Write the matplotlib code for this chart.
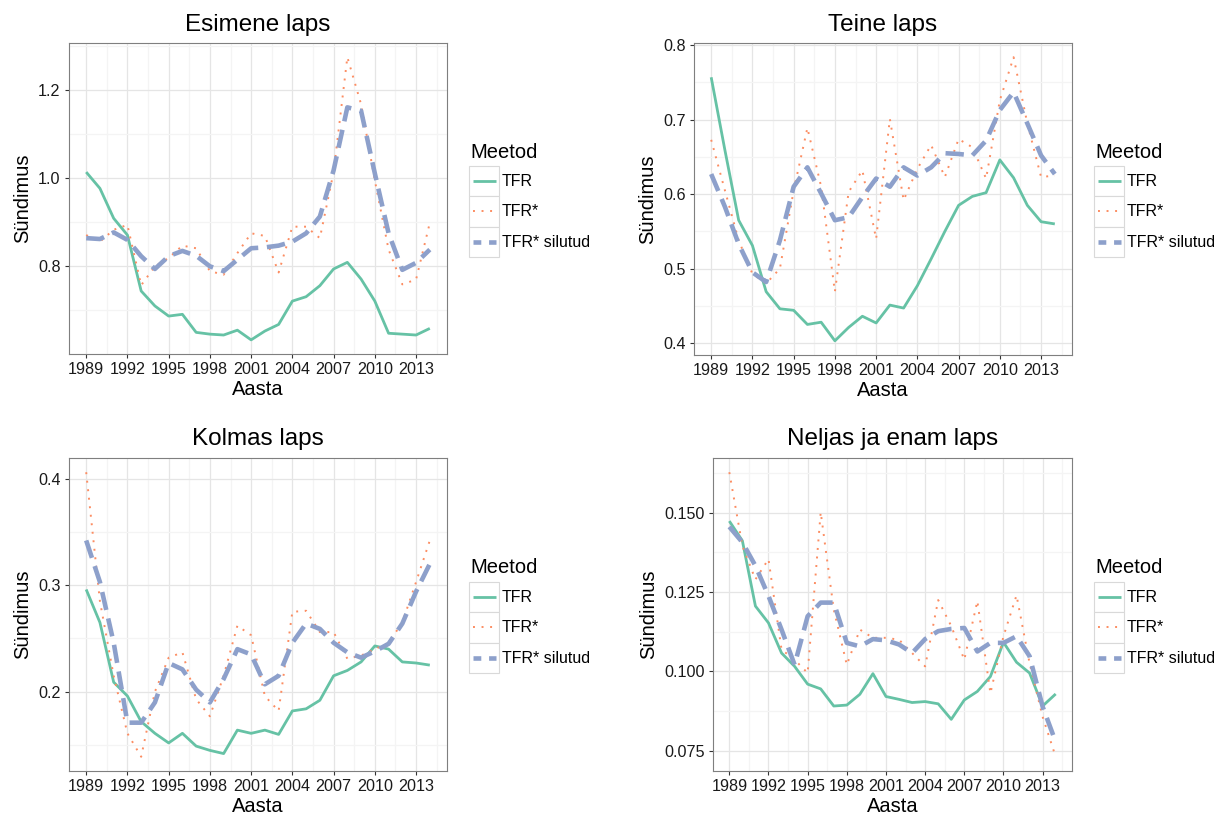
import matplotlib
matplotlib.use("Agg")
import matplotlib.pyplot as plt
from matplotlib.lines import Line2D
from matplotlib.patches import Rectangle
from matplotlib.ticker import MultipleLocator, AutoMinorLocator, FormatStrFormatter
from matplotlib.transforms import Affine2D

plt.rcParams["font.family"] = ["Liberation Sans", "DejaVu Sans"]

# Data
years = list(range(1989, 2015))
methods = ["TFR", "TFR*", "TFR* silutud"]
titles = ["Esimene laps", "Teine laps", "Kolmas laps", "Neljas ja enam laps"]

first_tfr = [1.014, 0.977, 0.909, 0.871, 0.744, 0.710, 0.687, 0.691, 0.650, 0.646,
             0.644, 0.655, 0.633, 0.653, 0.668, 0.721, 0.731, 0.756, 0.794, 0.809,
             0.771, 0.721, 0.648, 0.646, 0.644, 0.659]
first_star = [0.871, 0.856, 0.883, 0.894, 0.757, 0.800, 0.819, 0.847, 0.841, 0.789,
              0.781, 0.830, 0.875, 0.869, 0.786, 0.890, 0.890, 0.864, 1.014, 1.275,
              1.168, 0.995, 0.838, 0.759, 0.770, 0.899]
first_smooth = [0.864, 0.862, 0.877, 0.860, 0.823, 0.794, 0.823, 0.835, 0.824, 0.800,
                0.789, 0.815, 0.841, 0.843, 0.847, 0.856, 0.875, 0.913, 1.018, 1.161,
                1.153, 1.011, 0.875, 0.792, 0.808, 0.838]

second_tfr = [0.757, 0.659, 0.565, 0.531, 0.469, 0.446, 0.444, 0.425, 0.428, 0.403,
              0.421, 0.436, 0.427, 0.451, 0.447, 0.477, 0.513, 0.550, 0.585, 0.597,
              0.602, 0.646, 0.622, 0.585, 0.563, 0.560]
second_star = [0.673, 0.605, 0.538, 0.493, 0.480, 0.500, 0.605, 0.689, 0.610, 0.469,
               0.603, 0.632, 0.540, 0.701, 0.592, 0.634, 0.666, 0.623, 0.674, 0.663,
               0.621, 0.726, 0.784, 0.695, 0.623, 0.625]
second_smooth = [0.627, 0.583, 0.533, 0.495, 0.482, 0.538, 0.610, 0.636, 0.601, 0.565,
                 0.569, 0.596, 0.621, 0.610, 0.636, 0.625, 0.636, 0.655, 0.654, 0.652,
                 0.672, 0.713, 0.737, 0.695, 0.652, 0.627]

third_tfr = [0.296, 0.265, 0.209, 0.196, 0.172, 0.161, 0.152, 0.161, 0.149, 0.145,
             0.142, 0.164, 0.161, 0.164, 0.160, 0.182, 0.184, 0.192, 0.215, 0.220,
             0.228, 0.243, 0.240, 0.228, 0.227, 0.225]
third_star = [0.406, 0.285, 0.215, 0.161, 0.139, 0.200, 0.232, 0.237, 0.193, 0.177,
              0.215, 0.262, 0.253, 0.196, 0.182, 0.275, 0.276, 0.256, 0.256, 0.231,
              0.234, 0.240, 0.246, 0.265, 0.303, 0.342]
third_smooth = [0.342, 0.303, 0.246, 0.171, 0.171, 0.190, 0.227, 0.221, 0.202, 0.190,
                0.212, 0.240, 0.235, 0.207, 0.215, 0.246, 0.264, 0.259, 0.246, 0.237,
                0.232, 0.238, 0.245, 0.264, 0.294, 0.320]

fourth_tfr = [0.1474, 0.1412, 0.1206, 0.1153, 0.1058, 0.1016, 0.0960, 0.0945, 0.0891, 0.0894,
              0.0928, 0.0993, 0.0921, 0.0912, 0.0902, 0.0905, 0.0898, 0.0849, 0.0910, 0.0937,
              0.0984, 0.1092, 0.1029, 0.0995, 0.0891, 0.0929]
fourth_star = [0.1628, 0.1396, 0.1290, 0.1354, 0.1069, 0.1037, 0.0995, 0.1502, 0.1195, 0.1021,
               0.1132, 0.1106, 0.1106, 0.1100, 0.1058, 0.1016, 0.1225, 0.1143, 0.1037, 0.1222,
               0.0931, 0.1111, 0.1240, 0.1026, 0.0857, 0.0731]
fourth_smooth = [0.1456, 0.1407, 0.1333, 0.1238, 0.1132, 0.1021, 0.1174, 0.1217, 0.1217, 0.1090,
                 0.1079, 0.1102, 0.1098, 0.1085, 0.1058, 0.1102, 0.1127, 0.1134, 0.1137, 0.1063,
                 0.1090, 0.1090, 0.1111, 0.1048, 0.0889, 0.0778]

panels = [
    (first_tfr, first_star, first_smooth),
    (second_tfr, second_star, second_smooth),
    (third_tfr, third_star, third_smooth),
    (fourth_tfr, fourth_star, fourth_smooth),
]

# Styles (Set2 palette, ggplot-like)
colors = ["#66C2A5", "#FC8D62", "#8DA0CB"]
widths = [2.0, 1.4, 3.3]
dashes = [None, (1.0, 3.4), (4.0, 1.9)]
key_dashes = [None, (1.0, 3.4), (1.7, 1.7)]  # legend keys show shorter dashes

W, H = 1229, 823
fig = plt.figure(figsize=(W / 100, H / 100), dpi=100)
fig.patch.set_facecolor("white")


def rect(l, t, r, b):
    # pixel box (top-left origin) -> figure fraction
    return [l / W, 1 - b / H, (r - l) / W, (b - t) / H]


# pixel transform with origin at the top left
px = Affine2D().scale(1 / W, -1 / H).translate(0, 1) + fig.transFigure

boxes = [(69, 43, 447, 354), (694, 43, 1072, 355), (69, 458, 447, 771), (713, 458, 1072, 771)]
y_steps = [0.2, 0.1, 0.1, 0.025]
y_fmt = ["%.1f", "%.1f", "%.1f", "%.3f"]
legend_pos = [(469, 166), (1094, 166), (469, 582), (1094, 582)]


def draw_panel(ax, series, title, step, fmt):
    for vals, c, lw, d in zip(series, colors, widths, dashes):
        line, = ax.plot(years, vals, color=c, lw=lw, solid_capstyle="butt")
        if d is not None:
            line.set_dashes(d)
            line.set_dash_capstyle("butt")
    ax.margins(x=0.05, y=0.05)
    ax.xaxis.set_major_locator(MultipleLocator(3))
    ax.xaxis.set_minor_locator(AutoMinorLocator(2))
    ax.yaxis.set_major_locator(MultipleLocator(step))
    ax.yaxis.set_minor_locator(AutoMinorLocator(2))
    ax.yaxis.set_major_formatter(FormatStrFormatter(fmt))
    ax.grid(which="major", color="#E5E5E5", lw=0.9)
    ax.grid(which="minor", color="#F4F4F4", lw=0.9)
    ax.set_axisbelow(True)
    for s in ax.spines.values():
        s.set_color("#7F7F7F")
        s.set_linewidth(0.8)
    ax.tick_params(which="major", length=3, width=0.8, color="#333333",
                   labelsize=11.6, labelcolor="#1A1A1A", pad=3)
    ax.tick_params(which="minor", length=0)
    ax.set_title(title, fontsize=17.5, pad=9)
    ax.set_xlabel("Aasta", fontsize=14.5, labelpad=2)
    ax.set_ylabel("Sündimus", fontsize=14.5, labelpad=4)


def draw_legend(x0, y0):
    fig.text(x0 + 1, y0 - 14, "Meetod", transform=px, fontsize=14.5,
             ha="left", va="center")
    for i, (c, lw, d, name) in enumerate(zip(colors, widths, key_dashes, methods)):
        top = y0 + 30.3 * i
        fig.add_artist(Rectangle((x0, top), 30, 30.3, transform=px, fill=True,
                                 facecolor="white", edgecolor="#D9D9D9", lw=0.8))
        ln = Line2D([x0 + 4, x0 + 27], [top + 15, top + 15], transform=px,
                    color=c, lw=lw, solid_capstyle="butt")
        if d is not None:
            ln.set_dashes(d)
        fig.add_artist(ln)
        fig.text(x0 + 33, top + 15.5, name, transform=px, fontsize=11.5,
                 ha="left", va="center")


for k in range(4):
    ax = fig.add_axes(rect(*boxes[k]))
    draw_panel(ax, panels[k], titles[k], y_steps[k], y_fmt[k])
    draw_legend(*legend_pos[k])

fig.savefig("out.png", dpi=100, facecolor="white")
